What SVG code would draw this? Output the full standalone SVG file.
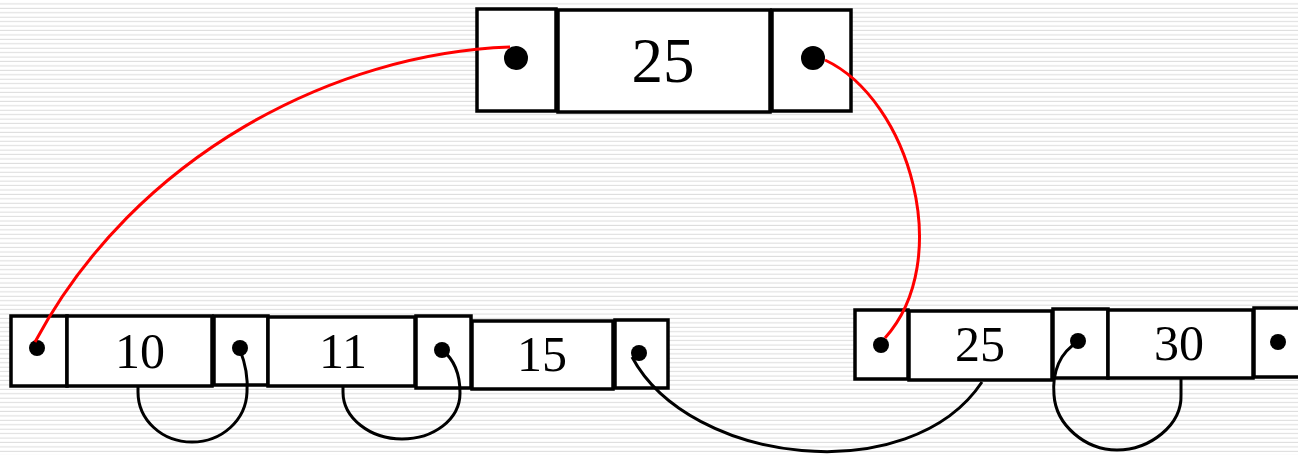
<svg xmlns="http://www.w3.org/2000/svg" width="1298" height="455" viewBox="0 0 1298 455">
<defs>
<pattern id="bg" x="0" y="0" width="60" height="4.43" patternUnits="userSpaceOnUse">
<rect x="0" y="0" width="60" height="4.43" fill="#ffffff"/>
<rect x="0" y="3.4" width="60" height="1" fill="#dcdcdc"/>
</pattern>
</defs>
<style>
.box{fill:#ffffff;stroke:#000000;stroke-width:3.5}
.dot{fill:#000000}
.lbl{font-family:"Liberation Serif","Times New Roman",serif;fill:#000000;text-anchor:middle}
.big{font-size:63px}
.sm{font-size:50px}
.red{fill:none;stroke:#ff0000;stroke-width:3}
.blk{fill:none;stroke:#000000;stroke-width:3}
</style>
<rect x="0" y="0" width="1298" height="455" fill="url(#bg)"/>
<g id="root">
<rect class="box" x="477" y="9" width="79" height="102"/>
<rect class="box" x="558" y="10" width="212" height="102"/>
<rect class="box" x="772" y="10" width="79" height="101"/>
<circle class="dot" cx="516" cy="58" r="12"/>
<circle class="dot" cx="813" cy="58" r="12"/>
<text class="lbl big" x="663" y="82">25</text>
</g>
<g id="leaf-left">
<rect class="box" x="11" y="316" width="56" height="70"/>
<rect class="box" x="67" y="316" width="145" height="70"/>
<rect class="box" x="214" y="316" width="54" height="69"/>
<rect class="box" x="268" y="317" width="147" height="69"/>
<rect class="box" x="416" y="316" width="55" height="72"/>
<rect class="box" x="472" y="321" width="141" height="68"/>
<rect class="box" x="615" y="320" width="53" height="68"/>
<circle class="dot" cx="37" cy="348" r="8"/>
<circle class="dot" cx="240" cy="348" r="8"/>
<circle class="dot" cx="442" cy="350" r="8"/>
<circle class="dot" cx="639" cy="353" r="8"/>
<text class="lbl sm" x="140" y="368">10</text>
<text class="lbl sm" x="343" y="368">11</text>
<text class="lbl sm" x="542" y="371">15</text>
</g>
<g id="leaf-right">
<rect class="box" x="855" y="310" width="53" height="69"/>
<rect class="box" x="909" y="311" width="143" height="69"/>
<rect class="box" x="1053" y="309" width="55" height="69"/>
<rect class="box" x="1108" y="310" width="145" height="68"/>
<rect class="box" x="1254" y="308" width="60" height="69"/>
<circle class="dot" cx="881" cy="345" r="8"/>
<circle class="dot" cx="1078" cy="341" r="8"/>
<circle class="dot" cx="1278" cy="342" r="8"/>
<text class="lbl sm" x="980" y="361">25</text>
<text class="lbl sm" x="1179" y="360">30</text>
</g>
<g id="connectors">
<path class="red" d="M 510 47 C 335 53, 135 155, 35 342"/>
<path class="red" d="M 825 60 C 910 100, 955 260, 885 338"/>
<path class="blk" d="M 240 350 C 246 365, 248 378, 247 392 C 246 420, 222 442, 192 442 C 162 442, 138 420, 138 392 L 138 387"/>
<path class="blk" d="M 442 350 C 455 360, 460 375, 460 393 C 460 420, 433 439, 402 439 C 370 439, 343 418, 343 392 L 343 387"/>
<path class="blk" d="M 632 357 C 690 465, 910 490, 982 382"/>
<path class="blk" d="M 1078 342 C 1060 352, 1052 372, 1054 395 C 1056 425, 1085 450, 1117 450 C 1150 450, 1182 425, 1181 395 L 1181 378"/>
</g>
</svg>
